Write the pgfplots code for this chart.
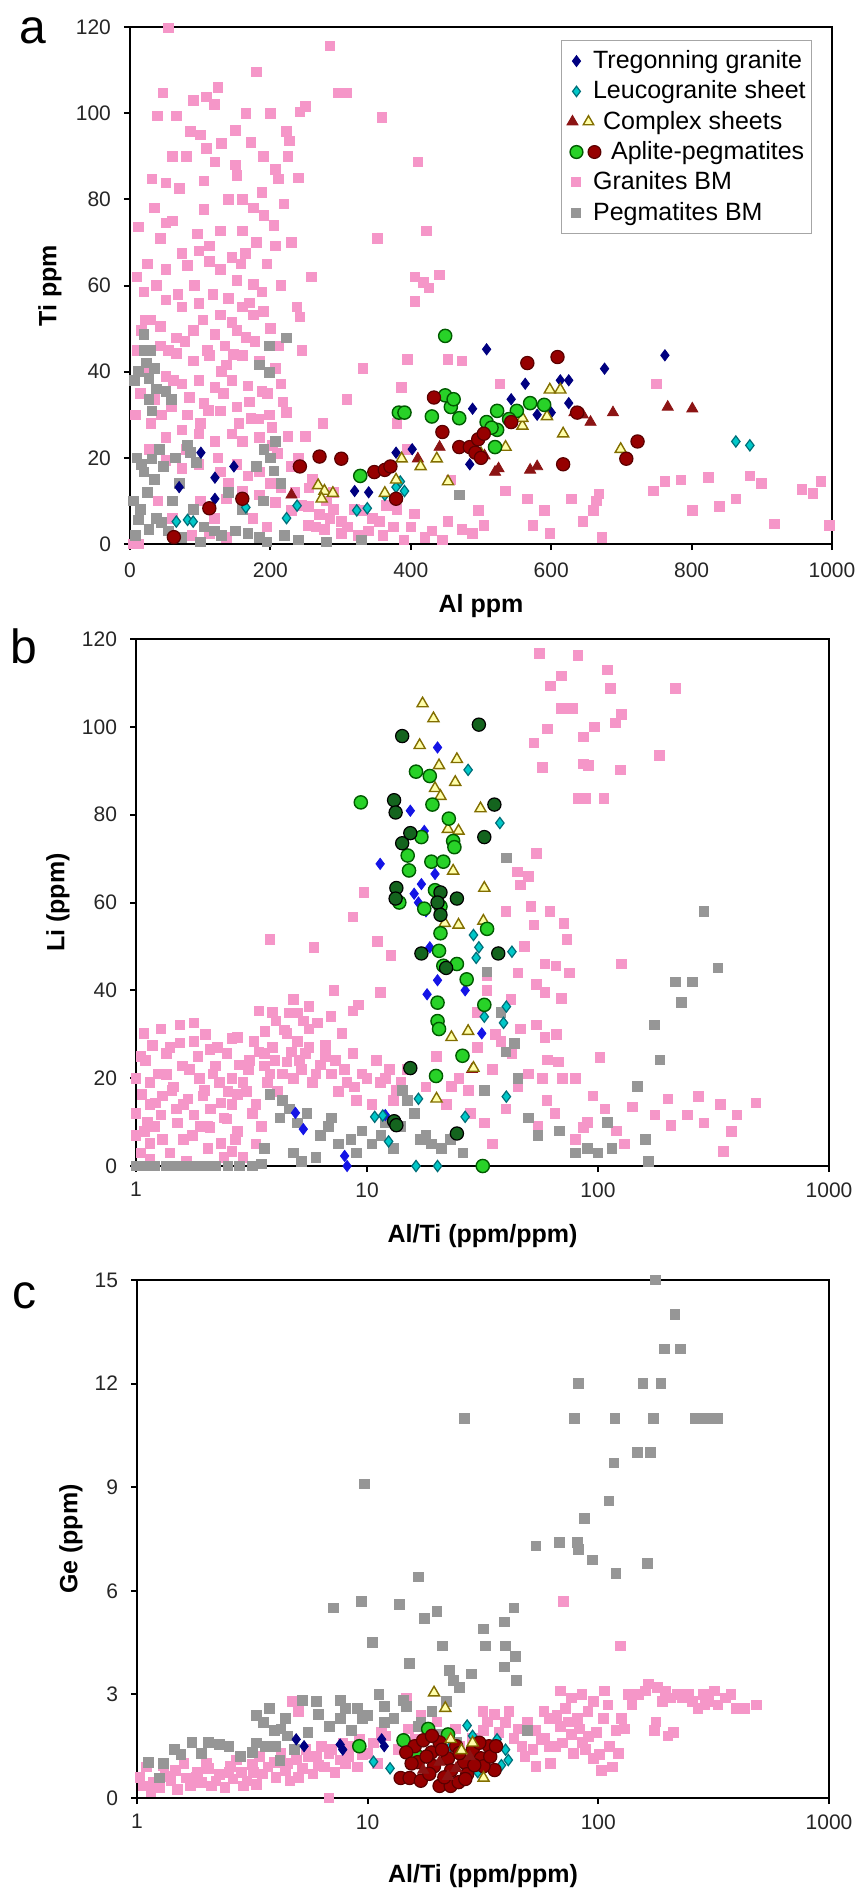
\documentclass[border=0pt]{standalone}
\usepackage{fontspec}
\setmainfont{Liberation Sans}
\usepackage{pgfplots}
\pgfplotsset{compat=1.18}
\definecolor{pinkc}{RGB}{245,150,200}
\definecolor{grayc}{RGB}{150,150,150}
\definecolor{navyc}{RGB}{0,0,128}
\definecolor{bluec}{RGB}{20,20,230}
\definecolor{tealf}{RGB}{0,200,200}
\definecolor{teald}{RGB}{0,110,120}
\definecolor{maroonc}{RGB}{140,20,20}
\definecolor{yelf}{RGB}{255,255,170}
\definecolor{yeld}{RGB}{130,110,0}
\definecolor{greenf}{RGB}{40,210,40}
\definecolor{greend}{RGB}{0,90,0}
\definecolor{redf}{RGB}{150,0,0}
\definecolor{redd}{RGB}{90,0,0}
\definecolor{dgreenf}{RGB}{20,100,30}
\pgfplotsset{
 pinkm/.style={only marks, mark=square*, mark size=2.4pt, color=pinkc},
 graym/.style={only marks, mark=square*, mark size=2.4pt, color=grayc},
 navym/.style={only marks, mark=diamond*, mark size=2.8pt, color=navyc},
 bluem/.style={only marks, mark=diamond*, mark size=2.8pt, color=bluec},
 leucom/.style={only marks, mark=diamond*, mark size=2.8pt, mark options={draw=teald, fill=tealf, line width=0.6pt}},
 ctrim/.style={only marks, mark=triangle*, mark size=3.2pt, color=maroonc},
 ytrim/.style={only marks, mark=triangle*, mark size=3.2pt, mark options={draw=yeld, fill=yelf, line width=0.7pt}},
 gcircm/.style={only marks, mark=*, mark size=3.3pt, mark options={draw=greend, fill=greenf, line width=0.7pt}},
 rcircm/.style={only marks, mark=*, mark size=3.3pt, mark options={draw=redd, fill=redf, line width=0.6pt}},
 dgcircm/.style={only marks, mark=*, mark size=3.3pt, mark options={draw=black, fill=dgreenf, line width=0.6pt}},
 base/.style={scale only axis, clip=false, anchor=south west,
   axis line style={line width=1.4pt, black},
   tick style={line width=1pt, black}, tick align=outside, tick pos=left,
   major tick length=3pt,
   tick label style={font=\fontsize{10.5}{12}\selectfont, text=black!85},
   yticklabel style={xshift=-3pt},
   label style={font=\bfseries\fontsize{12.5}{14}\selectfont}},
}
\newcommand{\lm}[4]{\path plot[mark=#1, mark size=#2, mark options={#3}] coordinates {(#4,0pt)};}
\begin{document}
\begin{tikzpicture}
\useasboundingbox (0,0) rectangle (431pt,-945.5pt);
\node[anchor=base, font=\fontsize{24}{24}\selectfont] at (16.3pt,-21.5pt) {a};
\node[anchor=base, font=\fontsize{24}{24}\selectfont] at (12pt,-331.5pt) {b};
\node[anchor=base, font=\fontsize{24}{24}\selectfont] at (12pt,-654pt) {c};
% ---------------- Panel a
\begin{axis}[base, at={(65pt,-272pt)}, width=351pt, height=258.5pt,
 xmin=0, xmax=1000, ymin=0, ymax=120,
 xtick={0,200,400,600,800,1000}, xticklabels={0,200,400,600,800,1000},
 ytick={0,20,40,60,80,100,120}, yticklabels={0,20,40,60,80,100,120},
 xticklabel style={yshift=-3pt},
 xlabel={Al ppm}, ylabel={Ti ppm},
 xlabel style={at={(axis description cs:0.5,0)}, anchor=center, yshift=-31pt},
 ylabel style={at={(axis description cs:-0.114,0.5)}, anchor=center},
 legend style={at={(0.972,0.975)}, anchor=north east, draw=black!35, line width=0.6pt,
   font=\fontsize{12.5}{15}\selectfont, inner xsep=1pt, inner ysep=3pt,
   row sep=0.6pt, cells={anchor=west}},
 legend cell align=left]
\addplot[pinkm, forget plot] coordinates {(55,119.8) (285,115.6) (180,109.6) (47,104.7) (125,106) (109,103.8) (90,103) (120,102) (297,104.7) (309,104.7) (39,99.4) (66,99.4) (242,100.3) (250,101.6) (359,99) (86,95.8) (109,91.8) (172,93.2) (223,95.8) (227,93.6) (225,90) (121,88.7) (207,86.9) (152,85.6) (31,84.7) (51,83.8) (70,82.5) (105,84.3) (211,84.7) (219,78.9) (176,78) (188,81.6) (410,88.7) (12,73.6) (51,74.5) (105,77.6) (129,72.7) (160,72.7) (191,76.3) (205,74) (422,72.7) (352,70.9) (43,70.9) (74,67.4) (98,68) (113,69.2) (145,66.5) (164,67.4) (207,69.2) (180,70) (195,65) (258,62) (20,58.5) (51,63.8) (82,64.7) (113,65.6) (129,63.8) (152,61.2) (176,60.3) (188,58.5) (170,56) (406,62) (418,60.7) (426,59.4) (441,62.5) (406,56.3) (51,56.7) (74,55) (98,55.8) (129,53.2) (160,55) (176,53.2) (238,55) (242,52.7) (16,49.6) (43,50.5) (66,47.8) (90,49.6) (121,48.7) (145,51.4) (152,49.6) (110,45) (135,46) (43,46) (66,44.3) (90,42.5) (113,43.8) (137,41.6) (160,43.8) (184,42.5) (207,40.7) (51,38.9) (74,37.2) (98,38) (121,36.3) (145,38) (168,36.7) (188,35.4) (215,37.2) (35,33.6) (59,31.8) (82,30) (105,32.7) (129,30.9) (152,31.8) (172,29.2) (199,30) (223,30.5) (309,33.6) (332,40.7) (395,42.9) (387,36.3) (453,42.9) (473,42.5) (527,37.2) (51,24.7) (74,26.5) (98,25.6) (121,23.8) (145,25.6) (160,23.8) (184,24.7) (203,22.9) (51,19.4) (74,17.6) (98,18.5) (129,16.7) (152,18.5) (168,15.8) (184,16.7) (200,14) (215,13) (137,10.5) (160,12.3) (184,11.4) (207,9.6) (230,7.8) (254,8.7) (270,6.9) (285,6) (301,5.2) (332,7.8) (355,5.2) (254,4.3) (277,3.4) (301,2.5) (113,2.5) (137,1.6) (168,2.5) (12,0) (4,0) (240,20) (260,15) (230,18) (280,10) (320,8) (340,3) (360,2) (380,8) (400,4) (420,1.5) (390,1) (290,12) (210,21) (250,25) (275,28) (380,28) (395,22) (130,40) (100,28) (80,22) (30,28) (20,40) (25,65) (60,90) (140,80) (200,50) (215,60) (150,96) (165,100) (457,14.9) (496,7.8) (473,3.4) (488,2.5) (504,4.3) (453,5.2) (535,12.3) (566,10.5) (574,4.3) (590,7.8) (598,2.5) (629,10.5) (645,5.2) (660,7.8) (664,10) (668,11.6) (672,1.6) (750,37.2) (746,12.3) (762,14.5) (785,14.9) (801,7.8) (824,15.4) (840,8.7) (863,10.5) (883,15.8) (899,14) (918,4.7) (957,12.7) (973,11.8) (984,14.5) (996,4.3) (8,30) (10,45) (15,35) (22,52) (28,22) (38,60) (45,30) (55,45) (62,38) (68,58) (78,47) (85,34) (92,60) (96,72) (104,52) (112,31) (118,58) (125,20) (133,35) (140,57) (147,44) (155,28) (158,65) (165,48) (170,33) (178,47) (183,29) (190,54) (196,35) (202,27) (212,46) (218,33) (225,25) (235,12) (245,9) (255,13) (265,4) (290,8) (310,4) (325,2) (345,6) (365,9) (375,4) (405,7) (430,3) (445,1) (100,10) (120,6) (140,14) (175,6) (195,4) (60,6) (88,2) (40,10) (30,52) (10,62) (35,78) (60,75) (80,90) (100,95) (130,93) (150,88) (160,80) (190,90) (200,100) (240,85) (230,70) (245,45)};
\addplot[graym, forget plot] coordinates {(20,48.7) (23,42) (27,38.5) (35,40.7) (20,45) (27,33.6) (31,30.9) (16,18.5) (20,16.7) (31,19.8) (51,35.4) (59,33.6) (82,22.9) (86,21.2) (95,19) (70,14) (12,5.6) (27,3.4) (74,1.6) (100,0.5) (120,3) (168,2.5) (184,1.6) (195,0.5) (199,46) (223,47.8) (184,41.6) (199,39.8) (207,23.8) (191,22) (180,18) (160,8) (150,3) (220,2) (240,1) (280,0.5) (330,1) (469,11.4) (215,14) (190,10) (60,10) (45,5) (35,15) (10,20) (5,10) (8,2) (15,8) (25,12) (38,6) (42,22) (48,18) (55,3) (65,20) (90,8) (105,4) (130,2) (140,12) (200,20) (205,17) (30,45) (38,36) (12,40) (6,38)};
\addplot[navym, forget plot] coordinates {(70,13.2) (101,21.2) (121,15.4) (121,10.5) (148,18) (320,12.3) (379,21.2) (402,22) (488,31.4) (508,45.2) (484,18.5) (543,33.6) (563,37.2) (580,30) (613,38) (625,38) (625,32.7) (676,40.7) (762,43.8) (600,30.5) (340,12) (500,25)};
\addplot[leucom, forget plot] coordinates {(66,5.2) (82,5.6) (90,5.2) (223,6) (238,8.9) (323,7.8) (338,8.3) (363,11.4) (379,13.2) (385,14.5) (391,12.3) (863,23.8) (883,22.9) (165,8.5)};
\addplot[ctrim, forget plot] coordinates {(230,11.4) (441,22.5) (410,19.8) (520,16.7) (525,17.5) (570,17.2) (580,18) (633,30.5) (645,30) (656,28.3) (688,30.5) (766,31.8) (801,31.4) (505,20.5)};
\addplot[ytrim, forget plot] coordinates {(268,13.6) (277,12.3) (273,10.5) (289,11.8) (363,11.8) (379,14.9) (387,19.8) (414,18) (437,19.8) (453,14.5) (535,22.5) (559,27.4) (559,29.2) (594,29.6) (598,35.8) (613,35.8) (617,25.6) (699,22) (500,21)};
\addplot[gcircm, forget plot] coordinates {(328,15.8) (383,30.5) (391,30.5) (430,29.6) (449,48.3) (449,34.5) (457,31.8) (461,33.6) (469,29.2) (508,28.3) (523,30.9) (520,22.5) (551,30.9) (570,32.7) (590,32.3) (523,26.5) (515,27) (540,29)};
\addplot[rcircm, forget plot] coordinates {(62.5,1.6) (113,8.3) (160,10.5) (242,18) (270,20.3) (301,19.8) (348,16.7) (363,17.2) (371,18) (379,10.5) (433,34) (445,26) (469,22.5) (484,22.5) (492,21.2) (496,24.3) (504,25.6) (543,28.3) (566,42) (609,43.4) (617,18.5) (637,30.5) (707,19.8) (723,23.8) (500,20)};
\addlegendimage{legend image code/.code={\begin{pgfinterruptboundingbox}\lm{diamond*}{2.6pt}{draw=navyc,fill=navyc}{6pt}\end{pgfinterruptboundingbox}\path (0pt,-3pt) (12pt,3pt);}}
\addlegendentry{Tregonning granite}
\addlegendimage{legend image code/.code={\begin{pgfinterruptboundingbox}\lm{diamond*}{2.6pt}{draw=teald,fill=tealf,line width=0.6pt}{6pt}\end{pgfinterruptboundingbox}\path (0pt,-3pt) (12pt,3pt);}}
\addlegendentry{Leucogranite sheet}
\addlegendimage{legend image code/.code={\begin{pgfinterruptboundingbox}\lm{triangle*}{3pt}{draw=maroonc,fill=maroonc}{4pt}\lm{triangle*}{3pt}{draw=yeld,fill=yelf,line width=0.7pt}{12pt}\end{pgfinterruptboundingbox}\path (0pt,-3pt) (12pt,3pt);}}
\addlegendentry{\hspace{5pt}Complex sheets}
\addlegendimage{legend image code/.code={\begin{pgfinterruptboundingbox}\lm{*}{3.2pt}{draw=greend,fill=greenf,line width=0.7pt}{6pt}\lm{*}{3.2pt}{draw=redd,fill=redf}{15pt}\end{pgfinterruptboundingbox}\path (0pt,-3pt) (12pt,3pt);}}
\addlegendentry{\hspace{9pt}Aplite-pegmatites}
\addlegendimage{legend image code/.code={\begin{pgfinterruptboundingbox}\lm{square*}{2.2pt}{draw=pinkc,fill=pinkc}{6pt}\end{pgfinterruptboundingbox}\path (0pt,-3pt) (12pt,3pt);}}
\addlegendentry{Granites BM}
\addlegendimage{legend image code/.code={\begin{pgfinterruptboundingbox}\lm{square*}{2.2pt}{draw=grayc,fill=grayc}{6pt}\end{pgfinterruptboundingbox}\path (0pt,-3pt) (12pt,3pt);}}
\addlegendentry{Pegmatites BM}
\end{axis}
% ---------------- Panel b
\begin{axis}[base, at={(68pt,-583pt)}, width=346.5pt, height=263.5pt,
 xmode=log, xmin=1, xmax=1000, ymin=0, ymax=120, xminorticks=false,
 xtick={1,10,100,1000}, xticklabels={1,10,100,1000},
 ytick={0,20,40,60,80,100,120}, yticklabels={0,20,40,60,80,100,120},
 xticklabel style={yshift=-1.7pt},
 xlabel={Al/Ti (ppm/ppm)}, ylabel={Li (ppm)},
 xlabel style={at={(axis description cs:0.5,0)}, anchor=center, yshift=-35pt},
 ylabel style={at={(axis description cs:-0.1126,0.5)}, anchor=center}]
\addplot[pinkm] coordinates {(55.7,116.7) (81.7,116.3) (69.3,111.6) (110,113) (113,108.8) (216,108.8) (62.1,109.3) (69.3,104.2) (77.3,104.2) (126,102.8) (119,100.9) (60.4,99.5) (52.7,96.3) (96.2,100) (86.3,97.7) (86.3,91.6) (91.1,91.2) (57.3,90.7) (125,90.2) (184,93.5) (81.7,83.7) (88.7,83.7) (106,83.7) (54.2,71.2) (44.8,67) (46,64) (9.7,62.3) (8.7,56.7) (3.8,51.6) (5.9,49.8) (11.1,51.2) (12.7,47.9) (51.3,59.1) (52.7,54.9) (71.2,55.3) (73.3,51.6) (58.9,46) (65.6,45.6) (126,46) (54.2,41.4) (58.9,39.5) (69.3,38.1) (33.1,43.3) (46,31.2) (54.2,32.1) (58.9,29.3) (60.4,24.2) (67.4,23.7) (57.3,20) (102,24.7) (107,13) (141,13.5) (176,11.6) (201,15.3) (207,9.3) (244,11.6) (272,15.8) (287,9.8) (339,14) (378,7.9) (399,11.6) (483,14.4) (348,3.3) (86.3,8.8) (7.2,40) (9.2,36.7) (11.4,39.5) (5.6,36.3) (4.6,34.9) (3.4,35.3) (1.78,32.6) (1.08,30.2) (1.18,27.4) (1.35,25.6) (1.55,32.1) (1.78,28.4) (2.09,26.5) (2.47,25.6) (2.75,29.3) (3.24,28.4) (3.61,30.7) (4.03,33) (4.5,30.2) (5.0,28.4) (5.6,31.2) (6.1,32.6) (6.97,34) (5.0,34.9) (5.4,25.6) (6.6,27.4) (7.8,30.2) (8.7,35.3) (4.5,23.7) (3.6,22.8) (3.07,21.9) (2.6,20) (2.2,22.8) (1.88,20) (1.59,22.8) (1.35,20.9) (1.15,19.1) (1.06,16.3) (1.21,14.4) (1.43,17.2) (1.68,15.3) (1.98,17.2) (2.33,14.4) (2.75,16.3) (1.28,11.6) (1.51,9.8) (1.78,11.6) (2.09,8.8) (2.47,10.7) (2.75,7.9) (2.33,5.1) (2.6,3.3) (1.09,7.9) (1.15,5.1) (1.28,31.2) (3.6,25.6) (1.0,20) (1.0,12) (1.05,3) (1.1,24) (1.2,9) (1.3,16) (1.4,27) (1.5,13) (1.6,6) (1.7,22) (1.9,9) (2.0,30) (2.1,13) (2.3,19) (2.4,2) (2.6,14) (2.8,23) (3.0,17) (3.2,12) (3.4,26) (3.7,19) (4.0,24) (4.3,21) (4.7,26) (5.2,22) (5.8,19) (6.3,23) (7.0,21) (7.5,17) (8.2,19) (9.0,15) (9.5,21) (10.5,14) (11,24) (12,20) (13,15) (15,22) (16,12) (18,18) (20,25) (22,14) (25,20) (28,12) (30,27) (35,22) (40,13) (45,18) (50,21) (55,9) (60,15) (65,12) (70,20) (80,6) (90,10) (35,5) (30,35) (33,40) (45,44) (50,66) (8.7,25.6) (11.4,19.1) (13.4,17.2) (23.2,18.1) (27.4,17.2) (38,28.4) (42.4,25.6) (32.2,9.8) (1.05,25) (1.12,10) (1.25,21) (1.3,6) (1.45,18) (1.55,28) (1.6,14) (1.75,7) (1.85,25) (1.95,16) (2.05,4) (2.15,21) (2.25,27) (2.4,11) (2.5,17) (2.7,6) (2.9,19) (3.1,24) (3.3,14) (3.5,9) (3.8,21) (3.9,27) (4.1,17) (4.4,31) (4.8,20) (5.1,24) (5.6,27) (6.0,21) (6.6,25) (7.3,24) (8.0,22) (8.8,18) (10,20) (12.5,22) (14,19) (1.15,1.5) (1.4,3) (1.65,1) (2.9,2) (3.3,5) (2.05,9) (1.15,14) (1.0,7) (2.6,29) (3.9,35) (4.8,38) (5.3,33) (36,30) (42,38) (48,50) (62,58) (75,44) (40,58) (66,30) (80,20) (95,16) (120,8) (130,5)};
\addplot[graym] coordinates {(1.0,0) (1.1,0) (1.2,0) (1.35,0) (1.5,0) (1.65,0) (1.8,0) (2.0,0) (2.2,0) (2.5,0) (2.8,0) (3.2,0) (3.5,0.5) (3.8,16.3) (4.3,14.9) (4.6,13) (4.2,11) (5,9.8) (5.5,12) (6.3,7) (6.8,9) (7.5,5) (8.5,6) (9.5,8) (10.5,5) (11.5,7) (13,4) (14.2,17.2) (15,15) (16,12) (17,6) (19,5) (21,4) (23,6) (26,3) (32.2,17.2) (33.1,44.2) (40.1,70.2) (43.5,27.9) (45,20) (50,11) (55,7) (68,8) (80,3) (90,4) (100,3) (110,10) (115,4) (160,6) (165,1) (148,18.1) (185,24.2) (175,32.1) (229,37.2) (216,41.9) (256,41.9) (287,58) (330,45.1) (4.8,3) (5.2,1) (3.6,4) (6,2) (7,11) (9,3) (12,10) (14,9) (18,7) (38,35) (40,26)};
\addplot[bluem] coordinates {(20.2,95.3) (15.4,80.9) (11.4,68.8) (17.7,76.3) (17.2,64.2) (16.7,60) (19.7,66.5) (18.7,49.8) (18.2,39.1) (20.2,42.3) (26.6,40) (31.4,30.2) (4.9,12.1) (5.3,8.4) (8,2.3) (8.2,0) (12,11.6) (16,62) (18,58)};
\addplot[leucom] coordinates {(27.4,90.2) (37.6,78.1) (28.9,52.6) (30.5,49.8) (29.7,47.4) (42.4,48.8) (40.1,36.3) (39,32.6) (32.2,34) (40.1,15.8) (16.7,15.3) (10.8,11.2) (12.4,5.6) (26.6,11.2) (16.3,0) (20.2,0) (11.7,11.5)};
\addplot[ctrim] coordinates {(28.5,22)};
\addplot[ytrim] coordinates {(17.4,105.3) (19.4,101.9) (16.9,95.8) (20.5,91.2) (24.5,92.6) (24.1,87.4) (19.7,86) (20.8,84.2) (22.4,76.7) (24.9,76.3) (23.6,67.2) (32.2,63.3) (31,81.4) (21.7,55.3) (24.9,54.9) (31.9,55.8) (27.4,30.7) (23.2,29.3) (28.9,22.3) (20,15.3)};
\addplot[gcircm] coordinates {(9.4,82.8) (16.3,89.8) (18.7,88.8) (19.2,82.3) (22.6,79.1) (23.6,74) (23.9,72.6) (15,70.7) (17.2,74.9) (19,69.3) (21.4,69.3) (15.2,67.3) (13.8,60) (19.7,62.8) (17.7,58.6) (20.8,59.1) (20.8,53) (20.5,49) (21.4,45.6) (24.5,46) (27,42.5) (20.2,37.2) (20.2,33) (20.5,31.2) (32.2,36.7) (33.1,54) (25.9,25.1) (19.9,20.5) (31.7,0)};
\addplot[dgcircm] coordinates {(14.2,97.9) (30.5,100.5) (13.1,83.3) (13.3,80.5) (14.2,73.5) (15.4,75.8) (32.2,74.9) (35.6,82.3) (13.4,63.3) (13.3,60.9) (20.8,62.3) (20.2,60) (20.8,57.2) (24.5,60.9) (17.2,48.4) (37,48.4) (22,45.1) (15.4,22.3) (13.1,10.2) (13.4,9.3) (24.5,7.4)};
\end{axis}
% ---------------- Panel c
\begin{axis}[base, at={(68.5pt,-899pt)}, width=346pt, height=259pt,
 xmode=log, xmin=1, xmax=1000, ymin=0, ymax=15, xminorticks=false,
 xtick={1,10,100,1000}, xticklabels={1,10,100,1000},
 ytick={0,3,6,9,12,15}, yticklabels={0,3,6,9,12,15},
 xticklabel style={yshift=-1.7pt},
 xlabel={Al/Ti (ppm/ppm)}, ylabel={Ge (ppm)},
 xlabel style={at={(axis description cs:0.5,0)}, anchor=center, yshift=-39pt},
 ylabel style={at={(axis description cs:-0.0954,0.5)}, anchor=center}]
\addplot[pinkm] coordinates {(1.06,0.35) (1.18,0.46) (1.32,0.63) (1.47,0.8) (1.64,0.58) (1.83,0.75) (2.04,0.86) (2.28,0.69) (2.54,0.92) (2.84,0.75) (3.17,0.98) (3.5,0.7) (3.94,1.04) (4.4,0.8) (4.9,1.1) (5.5,1.2) (6.1,0.95) (6.8,1.3) (7.6,1.1) (8.5,1.5) (9.5,1.25) (10.6,1.6) (1.1,0.9) (1.25,0.3) (1.4,0.5) (1.7,0.35) (1.9,0.45) (2.2,0.5) (2.6,0.55) (3.0,0.5) (3.3,0.4) (4.0,0.6) (4.6,0.5) (5.2,0.85) (5.8,0.7) (6.5,0.9) (7.2,0.75) (8.0,1.0) (9.0,0.9) (4.7,2.8) (5.0,2.5) (6.8,0) (14.7,2.9) (12,1.8) (13,2.3) (15,2.0) (17,2.4) (20,2.2) (24,2.0) (31.6,2.5) (35.5,2.42) (39.6,2.19) (43,1.73) (46.7,1.5) (49.3,2.19) (53.6,1.96) (56.5,1.7) (58.2,1.73) (61.5,2.3) (65,1.5) (68.6,2.07) (76.6,1.84) (80.9,2.3) (85.5,1.61) (90.3,1.79) (95.4,1.15) (101,1.27) (103,0.8) (112,1.5) (119,1.96) (126,2.3) (61.5,1.5) (53.6,0.92) (28.5,1.73) (31.8,1.96) (68.6,3.1) (70.7,5.7) (76.2,2.9) (85,3) (95.4,2.8) (106,3.1) (125,4.4) (165,3.3) (178,2.2) (195,3.1) (205,2.9) (211,1.9) (255,2.8) (285,3.0) (318,3.1) (355,2.9) (398,2.6) (485,2.7) (150,3.0) (140,2.7) (180,3.2) (230,2.9) (270,2.6) (300,2.8) (72,2.6) (90,2.5) (110,2.7) (1.03,0.6) (1.15,0.2) (1.3,0.95) (1.5,0.25) (1.6,1.0) (1.8,0.6) (2.0,1.0) (2.1,0.35) (2.4,0.3) (2.5,0.75) (2.7,1.1) (2.9,0.35) (3.2,0.75) (3.4,1.2) (3.7,0.9) (4.2,1.3) (4.5,1.0) (5.0,0.6) (5.4,1.4) (6.0,1.2) (6.3,1.5) (7.0,1.4) (7.8,1.6) (8.3,1.2) (9.2,1.7) (10,1.3) (11,1.0) (11.5,1.9) (13.5,1.4) (16,1.7) (18,2.0) (25,1.5) (33,2.2) (37,1.9) (41,2.5) (45,2.0) (48,1.2) (52,1.4) (58,2.5) (62,1.0) (66,2.4) (70,1.6) (74,2.2) (78,1.3) (83,2.0) (88,1.4) (98,1.9) (105,2.3) (115,0.9) (122,1.3) (130,2.0) (135,3.0) (160,3.1) (190,2.8) (220,3.0) (245,3.0) (290,2.7) (330,2.7) (375,3.0) (430,2.6) (175,1.95) (200,1.8)};
\addplot[graym] coordinates {(177,15) (215,14) (193,13) (227,13) (82,12) (156,12) (187,12) (26.3,11) (78.7,11) (118,11) (173,11) (263,11) (294,11) (328,11) (148,10) (168,10) (117,9.7) (9.7,9.1) (111,8.6) (86.9,8.1) (53.6,7.3) (67.9,7.4) (80.9,7.4) (82,7.2) (94.4,6.9) (163,6.8) (119,6.5) (16.6,6.4) (7.1,5.5) (9.4,5.7) (13.7,5.6) (17.6,5.2) (20,5.4) (43,5.5) (31.8,4.9) (39.2,5.1) (10.5,4.5) (21.1,4.4) (32.3,4.4) (39.6,4.4) (43.7,4.1) (15.2,3.9) (39.2,3.8) (22.6,3.7) (28.2,3.6) (23.5,3.4) (44.2,3.4) (3.74,2.59) (4.4,2.3) (5.2,2.82) (6.12,2.42) (6.84,2.07) (7.63,2.82) (9.0,2.59) (11.2,3.0) (11.8,2.65) (14.3,2.82) (14.7,2.65) (16.5,2.07) (20.5,1.84) (24.2,1.61) (8.51,1.96) (11.8,2.19) (49.3,1.96) (1.73,1.61) (2.04,1.61) (2.28,1.56) (1.55,1.27) (1.12,1.04) (1.25,0.58) (3.17,1.32) (4.17,1.09) (3.54,2.19) (3.95,1.96) (7.63,2.3) (9.5,2.3) (3.3,2.4) (3.6,1.5) (4.8,1.4) (5.5,1.9) (4.2,2.0) (1.3,1.0) (1.45,1.4) (1.9,1.3) (2.5,1.5) (2.8,1.2) (3.3,1.6) (4.0,1.5) (4.5,1.8) (6.0,2.8) (8,2.6) (10,2.4) (13,2.3) (17,2.2) (19,2.5) (22,2.8) (25,3.2)};
\addplot[navym] coordinates {(4.9,1.7) (5.3,1.5) (7.8,1.4) (7.6,1.55) (11.5,1.7) (11.8,1.5)};
\addplot[leucom] coordinates {(10.6,1.05) (12.5,0.86) (27,2.1) (28.5,1.8) (36.4,1.7) (39.6,1.4) (40.7,1.1) (38,0.95) (30,0.75) (26,0.95) (22.9,1.5) (18.3,1.3)};
\addplot[gcircm] coordinates {(9.2,1.5) (16.5,1.2) (14.3,1.67) (18.3,2.0) (22.3,1.84)};
\addplot[rcircm] coordinates {(13.9,0.58) (15.2,0.58) (16,1.5) (17.4,1.67) (18.9,1.32) (20.5,1.61) (22.3,1.15) (24.2,1.5) (26.2,1.04) (28.5,1.38) (31,1.15) (33.6,1.5) (35.5,0.81) (20.5,0.35) (22.9,0.35) (24.8,0.46) (16.5,1.04) (19.4,0.92) (27,0.69) (31.8,0.92) (14.7,1.32) (15.5,1.0) (17,0.5) (18,1.2) (19,1.8) (21,1.4) (23,0.8) (25,1.3) (26.5,0.55) (29,0.95) (30.5,1.6) (34,1.2) (36,1.5) (21.5,0.6) (18.5,0.7)};
\addplot[ctrim] coordinates {(20.5,1.04) (22.3,0.63) (24.2,0.86) (17.4,0.81) (27.7,1.2)};
\addplot[ytrim] coordinates {(19.4,3.05) (21.7,2.6) (31.8,0.58) (25.5,1.38) (28.5,1.6) (22.9,1.7)};
\end{axis}
\end{tikzpicture}
\end{document}
